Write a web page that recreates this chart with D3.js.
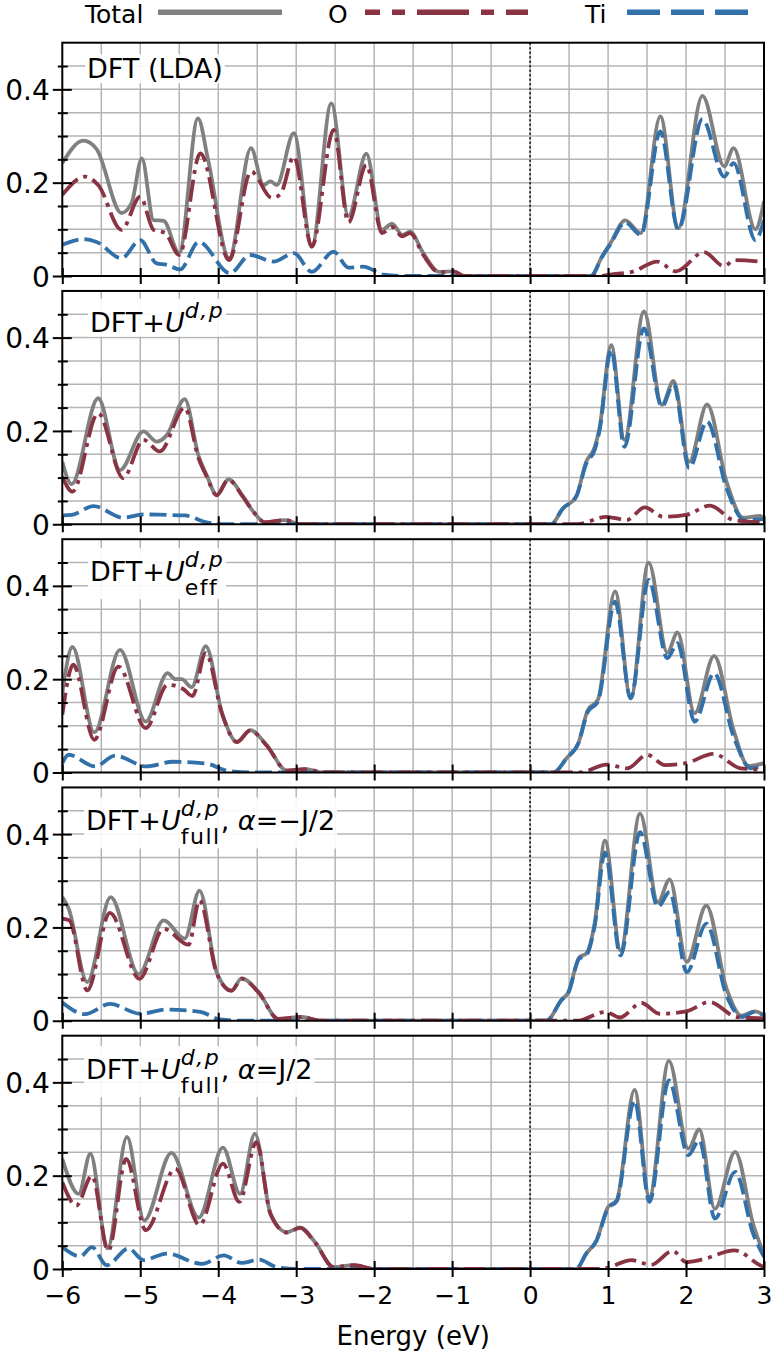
<!DOCTYPE html>
<html>
<head>
<meta charset="utf-8">
<script src="https://cdn.jsdelivr.net/npm/d3@7"></script>
<style>
  body { margin: 0; background: #fff; }
  text { font-family: "DejaVu Sans", sans-serif; white-space: pre; }
</style>
</head>
<body>
<div id="plot"></div>
<script>
// density of states, [energy (eV), DOS]

// panel 1 : DFT (LDA)
var total1 = [[-6,0.242],[-5.73,0.29],[-5.56,0.272],[-5.24,0.135],[-5.11,0.157],[-4.98,0.252],[-4.83,0.12],[-4.70,0.118],[-4.50,0.049],[-4.26,0.338],[-4.13,0.249],[-3.86,0.038],[-3.58,0.274],[-3.42,0.195],[-3.33,0.203],[-3.25,0.195],[-3.03,0.306],[-2.80,0.063],[-2.55,0.37],[-2.33,0.129],[-2.10,0.262],[-1.90,0.099],[-1.77,0.112],[-1.64,0.088],[-1.54,0.095],[-1.37,0.049],[-1.17,0.009],[-0.98,0.01],[-0.85,0],[0.78,0],[0.92,0.041],[1.03,0.07],[1.22,0.119],[1.42,0.092],[1.67,0.342],[1.90,0.102],[2.21,0.386],[2.49,0.235],[2.61,0.274],[2.89,0.1],[3,0.16]];
var oxy1 = [[-6,0.174],[-5.71,0.213],[-5.54,0.195],[-5.24,0.099],[-5.0,0.17],[-4.83,0.099],[-4.68,0.092],[-4.50,0.045],[-4.23,0.263],[-3.86,0.034],[-3.58,0.224],[-3.31,0.167],[-3.20,0.176],[-3.03,0.256],[-2.80,0.063],[-2.52,0.313],[-2.33,0.115],[-2.10,0.238],[-1.90,0.092],[-1.77,0.105],[-1.64,0.085],[-1.54,0.092],[-1.37,0.045],[-1.17,0.008],[-0.98,0.01],[-0.85,0],[0.9,0],[1.03,0.003],[1.33,0.01],[1.63,0.031],[1.87,0.01],[2.23,0.051],[2.49,0.021],[2.62,0.034],[3,0.03]];
var ti1 = [[-6,0.067],[-5.73,0.079],[-5.56,0.073],[-5.24,0.038],[-5.0,0.077],[-4.79,0.027],[-4.66,0.024],[-4.49,0.014],[-4.25,0.073],[-3.85,0.006],[-3.59,0.045],[-3.29,0.031],[-3.03,0.049],[-2.80,0.009],[-2.52,0.052],[-2.33,0.018],[-2.14,0.02],[-1.88,0.003],[-1.6,0],[0.78,0],[0.92,0.04],[1.03,0.068],[1.22,0.115],[1.42,0.088],[1.67,0.31],[1.90,0.1],[2.21,0.336],[2.49,0.213],[2.61,0.242],[2.89,0.077],[3,0.12]];

// panel 2 : DFT+U d,p
var total2 = [[-6,0.134],[-5.88,0.086],[-5.54,0.27],[-5.26,0.116],[-4.96,0.199],[-4.79,0.177],[-4.66,0.191],[-4.43,0.268],[-4.25,0.145],[-4.15,0.106],[-4.02,0.063],[-3.87,0.096],[-3.68,0.059],[-3.55,0.027],[-3.40,0.004],[-3.14,0.009],[-2.95,0],[0.27,0],[0.42,0.034],[0.59,0.059],[0.72,0.134],[0.83,0.166],[0.89,0.206],[1.04,0.384],[1.21,0.181],[1.46,0.456],[1.69,0.256],[1.84,0.307],[2.04,0.134],[2.27,0.257],[2.52,0.091],[2.73,0.014],[2.95,0.018],[3,0.013]];
var oxy2 = [[-6,0.102],[-5.87,0.07],[-5.54,0.238],[-5.22,0.099],[-4.96,0.181],[-4.75,0.156],[-4.43,0.25],[-4.25,0.14],[-4.15,0.103],[-4.02,0.062],[-3.87,0.095],[-3.68,0.058],[-3.55,0.027],[-3.40,0.004],[-3.14,0.009],[-2.95,0],[0.6,0],[0.98,0.016],[1.24,0.009],[1.47,0.036],[1.71,0.016],[2.0,0.02],[2.31,0.04],[2.61,0.009],[3,0.004]];
var ti2 = [[-6,0.019],[-5.88,0.02],[-5.6,0.039],[-5.22,0.014],[-4.96,0.021],[-4.66,0.02],[-4.43,0.019],[-4.15,0.004],[-3.9,0],[0.27,0],[0.42,0.034],[0.59,0.059],[0.72,0.13],[0.83,0.16],[0.89,0.2],[1.04,0.374],[1.21,0.166],[1.46,0.42],[1.69,0.252],[1.84,0.3],[2.04,0.12],[2.27,0.22],[2.52,0.077],[2.75,0.009],[3,0.011]];

// panel 3 : DFT+U d,p eff
var total3 = [[-6,0.17],[-5.87,0.269],[-5.59,0.086],[-5.26,0.263],[-4.93,0.109],[-4.65,0.213],[-4.55,0.2],[-4.47,0.2],[-4.34,0.183],[-4.16,0.271],[-3.95,0.127],[-3.76,0.066],[-3.59,0.091],[-3.38,0.059],[-3.12,0.004],[-2.88,0.007],[-2.65,0],[0.3,0],[0.47,0.031],[0.62,0.063],[0.74,0.134],[0.87,0.156],[1.09,0.388],[1.29,0.159],[1.52,0.45],[1.76,0.257],[1.89,0.3],[2.11,0.127],[2.36,0.25],[2.61,0.091],[2.80,0.014],[3,0.02]];
var oxy3 = [[-6,0.124],[-5.86,0.231],[-5.59,0.07],[-5.28,0.227],[-4.93,0.095],[-4.65,0.188],[-4.45,0.179],[-4.33,0.164],[-4.16,0.256],[-3.95,0.125],[-3.76,0.065],[-3.59,0.09],[-3.38,0.058],[-3.12,0.004],[-2.88,0.007],[-2.65,0],[0.64,0],[0.98,0.017],[1.25,0.009],[1.5,0.038],[1.73,0.016],[2.0,0.02],[2.35,0.04],[2.7,0.009],[3,0.006]];
var ti3 = [[-6,0.02],[-5.92,0.038],[-5.58,0.013],[-5.32,0.036],[-4.92,0.013],[-4.58,0.023],[-4.15,0.019],[-3.89,0.004],[-3.6,0],[0.3,0],[0.47,0.031],[0.62,0.063],[0.74,0.13],[0.87,0.152],[1.09,0.366],[1.29,0.159],[1.52,0.413],[1.76,0.245],[1.89,0.277],[2.11,0.109],[2.36,0.213],[2.61,0.077],[2.83,0.009],[3,0.016]];

// panel 4 : DFT+U d,p full, alpha=-J/2
var total4 = [[-6,0.265],[-5.92,0.241],[-5.68,0.083],[-5.38,0.265],[-5.02,0.1],[-4.70,0.215],[-4.43,0.176],[-4.24,0.279],[-4.02,0.104],[-3.83,0.065],[-3.70,0.091],[-3.48,0.061],[-3.23,0.004],[-2.93,0.008],[-2.69,0],[0.21,0],[0.40,0.044],[0.49,0.061],[0.63,0.136],[0.72,0.144],[0.83,0.211],[0.96,0.386],[1.16,0.151],[1.41,0.444],[1.64,0.254],[1.79,0.303],[2.01,0.126],[2.26,0.247],[2.52,0.069],[2.71,0.011],[2.88,0.02],[3,0.012]];
var oxy4 = [[-6,0.219],[-5.91,0.215],[-5.68,0.065],[-5.39,0.231],[-5.01,0.09],[-4.70,0.197],[-4.38,0.163],[-4.24,0.258],[-4.02,0.102],[-3.83,0.064],[-3.70,0.09],[-3.48,0.06],[-3.23,0.004],[-2.93,0.008],[-2.69,0],[0.6,0],[0.97,0.019],[1.15,0.007],[1.43,0.038],[1.66,0.015],[2.0,0.02],[2.3,0.04],[2.65,0.008],[3,0.005]];
var ti4 = [[-6,0.039],[-5.71,0.014],[-5.39,0.036],[-5.0,0.015],[-4.66,0.024],[-4.23,0.019],[-3.98,0.003],[-3.7,0],[0.21,0],[0.40,0.044],[0.49,0.06],[0.63,0.133],[0.72,0.14],[0.83,0.205],[0.96,0.361],[1.16,0.14],[1.41,0.404],[1.64,0.244],[1.79,0.276],[2.01,0.104],[2.26,0.208],[2.52,0.054],[2.72,0.008],[2.88,0.019],[3,0.011]];

// panel 5 : DFT+U d,p full, alpha=J/2
var total5 = [[-6,0.236],[-5.79,0.161],[-5.64,0.247],[-5.42,0.044],[-5.17,0.283],[-4.95,0.104],[-4.60,0.249],[-4.25,0.11],[-3.94,0.26],[-3.72,0.161],[-3.53,0.29],[-3.33,0.119],[-3.12,0.079],[-2.95,0.089],[-2.76,0.058],[-2.52,0.004],[-2.26,0.008],[-2.0,0],[0.59,0],[0.72,0.033],[0.85,0.061],[1.0,0.133],[1.11,0.147],[1.34,0.384],[1.53,0.154],[1.78,0.446],[2.03,0.258],[2.17,0.299],[2.37,0.129],[2.63,0.251],[2.86,0.097],[3,0.03]];
var oxy5 = [[-6,0.186],[-5.82,0.136],[-5.62,0.2],[-5.41,0.039],[-5.18,0.236],[-4.93,0.083],[-4.55,0.215],[-4.24,0.094],[-3.94,0.226],[-3.73,0.144],[-3.51,0.272],[-3.33,0.118],[-3.12,0.078],[-2.95,0.088],[-2.76,0.057],[-2.52,0.004],[-2.26,0.008],[-2.0,0],[0.9,0],[1.0,0.003],[1.3,0.019],[1.55,0.009],[1.83,0.039],[2.0,0.015],[2.2,0.02],[2.62,0.04],[2.95,0.008],[3,0.004]];
var ti5 = [[-6,0.047],[-5.77,0.027],[-5.62,0.047],[-5.43,0.008],[-5.15,0.044],[-4.96,0.019],[-4.66,0.033],[-4.21,0.011],[-3.93,0.029],[-3.70,0.013],[-3.48,0.02],[-3.25,0.004],[-3.0,0],[0.59,0],[0.72,0.033],[0.85,0.06],[1.0,0.13],[1.11,0.145],[1.34,0.361],[1.53,0.144],[1.78,0.404],[2.03,0.244],[2.17,0.276],[2.37,0.108],[2.63,0.208],[2.86,0.076],[3,0.026]];

// panel titles (pieces: plain, italic, superscript, subscript)
var title1 = [{t: "DFT (LDA)"}];
var title2 = [{t: "DFT+"}, {t: "U", it: 1}, {t: "d,p", it: 1, sup: 1}];
var title3 = [{t: "DFT+"}, {t: "U", it: 1}, {t: "d,p", it: 1, sup: 1}, {t: "eff", sub: 1}];
var title4 = [{t: "DFT+"}, {t: "U", it: 1}, {t: "d,p", it: 1, sup: 1}, {t: "full", sub: 1}, {t: ",\u00a0"}, {t: "α", it: 1}, {t: "=−J/2"}];
var title5 = [{t: "DFT+"}, {t: "U", it: 1}, {t: "d,p", it: 1, sup: 1}, {t: "full", sub: 1}, {t: ",\u00a0"}, {t: "α", it: 1}, {t: "=J/2"}];

var seriesNames = ["Total", "O", "Ti"];
var xTicks = [-6, -5, -4, -3, -2, -1, 0, 1, 2, 3];
var yMajor = [0, 0.2, 0.4];
var yMinor = [0.05, 0.1, 0.15, 0.25, 0.3, 0.35, 0.45];

var panels = [
  {total: total1, o: oxy1, ti: ti1, title: title1},
  {total: total2, o: oxy2, ti: ti2, title: title2},
  {total: total3, o: oxy3, ti: ti3, title: title3},
  {total: total4, o: oxy4, ti: ti4, title: title4},
  {total: total5, o: oxy5, ti: ti5, title: title5}
];

// layout
var W = 773, H = 1356;
var left = 62.3, right = 764, top0 = 42.7, pitch = 248.25, ph = 233.3;
var titleX = [87, 90, 90, 86, 86];
var titleDy = [35.6, 40.7, 42, 43, 43.3];

var colTotal = "#808080", colO = "#8a3343", colTi = "#3170a9";

var svg = d3.select("div#plot")
  .append("svg")
    .attr("width", W)
    .attr("height", H);

var x = d3.scaleLinear().domain([-6, 3]).range([left, right]);

panels.forEach(function (p, i) {
  var top = top0 + i * pitch;
  var y = d3.scaleLinear().domain([0, 0.5]).range([top + ph, top]);
  var g = svg.append("g");

  // grid
  g.append("g").selectAll("line")
    .data(d3.range(-5.5, 3, 0.5))
    .enter().append("line")
      .attr("x1", d => x(d)).attr("x2", d => x(d))
      .attr("y1", top).attr("y2", top + ph)
      .attr("stroke", "#b4b4b4").attr("stroke-width", 1.5);
  g.append("g").selectAll("line")
    .data(d3.range(1, 10).map(k => k * 0.05))
    .enter().append("line")
      .attr("x1", left).attr("x2", right)
      .attr("y1", d => y(d)).attr("y2", d => y(d))
      .attr("stroke", "#b4b4b4").attr("stroke-width", 1.5);

  // Fermi level
  g.append("line")
    .attr("x1", x(0)).attr("x2", x(0))
    .attr("y1", top).attr("y2", top + ph)
    .attr("stroke", "#000").attr("stroke-width", 1.5)
    .attr("stroke-dasharray", "2,2.5");

  // curves, clipped to the panel
  var cid = "clip" + i;
  svg.append("clipPath").attr("id", cid)
    .append("rect").attr("x", left).attr("y", top)
    .attr("width", right - left).attr("height", ph);

  var line = d3.line()
    .x(d => x(d[0]))
    .y(d => y(d[1]))
    .curve(d3.curveMonotoneX);

  var lg = g.append("g").attr("clip-path", "url(#" + cid + ")");
  lg.append("path").attr("d", line(p.total))
    .attr("fill", "none").attr("stroke", colTotal).attr("stroke-width", 3.8);
  lg.append("path").attr("d", line(p.ti))
    .attr("fill", "none").attr("stroke", colTi).attr("stroke-width", 3.8)
    .attr("stroke-dasharray", "17,6");
  lg.append("path").attr("d", line(p.o))
    .attr("fill", "none").attr("stroke", colO).attr("stroke-width", 3.8)
    .attr("stroke-dasharray", "22,6,4,6");

  // title with a white box behind it
  var tg = g.append("g");
  var box = tg.append("rect").attr("fill", "#fff").attr("opacity", 0.9);
  var base = top + titleDy[i];
  var cx = titleX[i], supStart = cx, supEnd = cx;
  p.title.forEach(function (part) {
    var small = part.sup || part.sub;
    var px = part.sub ? supStart : cx;
    var t = tg.append("text")
      .attr("x", px)
      .attr("y", base + (part.sup ? -14 : part.sub ? 14 : 0))
      .attr("font-size", small ? 22 : 27)
      .attr("letter-spacing", small ? 1.5 : 0)
      .attr("font-style", part.it ? "italic" : "normal")
      .attr("fill", "#000")
      .text(part.t);
    var w = t.node().getComputedTextLength();
    if (part.sup) { supStart = px; supEnd = px + w; cx = supEnd; }
    else if (part.sub) { cx = Math.max(supEnd, px + w); }
    else { cx = px + w; }
  });
  var bb = tg.node().getBBox();
  box.attr("x", bb.x - 2).attr("y", bb.y + 1)
    .attr("width", bb.width + 4).attr("height", bb.height - 2);

  // y axis: major and minor ticks, crossing the spine
  var ay = g.append("g")
    .attr("transform", "translate(" + left + ",0)")
    .call(d3.axisLeft(y).tickValues(yMajor).tickSize(9.5).tickPadding(3)
      .tickFormat(d => d === 0 ? "0" : d3.format(".1f")(d)));
  ay.select(".domain").remove();
  ay.selectAll(".tick line").attr("x1", 9.5).attr("stroke-width", 2);
  ay.selectAll("text").attr("font-size", 28).attr("dy", "0.36em")
    .attr("font-family", "DejaVu Sans").attr("fill", "#000");

  var ayMinor = g.append("g")
    .attr("transform", "translate(" + left + ",0)")
    .call(d3.axisLeft(y).tickValues(yMinor).tickSize(4.5).tickFormat(""));
  ayMinor.select(".domain").remove();
  ayMinor.selectAll(".tick line").attr("x1", 5.5).attr("stroke-width", 2);

  // x axis
  var last = i === panels.length - 1;
  var ax = g.append("g")
    .attr("transform", "translate(0," + (top + ph) + ")")
    .call(d3.axisBottom(x).tickValues(xTicks).tickSize(8).tickPadding(9)
      .tickFormat(last ? d3.format("d") : ""));
  ax.select(".domain").remove();
  ax.selectAll(".tick line").attr("y1", -8).attr("stroke-width", 2);
  ax.selectAll("text").attr("font-size", 25)
    .attr("font-family", "DejaVu Sans").attr("fill", "#000");

  // frame
  g.append("rect")
    .attr("x", left).attr("y", top)
    .attr("width", right - left).attr("height", ph)
    .attr("fill", "none").attr("stroke", "#000").attr("stroke-width", 2);
});

// x label
svg.append("text")
  .attr("x", (left + right) / 2)
  .attr("y", 1345)
  .attr("text-anchor", "middle")
  .attr("font-size", 26)
  .text("Energy (eV)");

// legend
var legend = [
  {name: seriesNames[0], tx: 85, x1: 158, x2: 282, color: colTotal, dash: null},
  {name: seriesNames[1], tx: 328, x1: 365, x2: 528, color: colO, dash: "52,12,13,12", off: 37},
  {name: seriesNames[2], tx: 585, x1: 627, x2: 748, color: colTi, dash: "33,11"}
];
legend.forEach(function (l) {
  svg.append("text")
    .attr("x", l.tx).attr("y", 23.3)
    .attr("font-size", 25)
    .text(l.name);
  var ln = svg.append("line")
    .attr("x1", l.x1).attr("x2", l.x2)
    .attr("y1", 12.3).attr("y2", 12.3)
    .attr("stroke", l.color).attr("stroke-width", 5.5);
  if (l.dash) ln.attr("stroke-dasharray", l.dash);
  if (l.off) ln.attr("stroke-dashoffset", l.off);
});
</script>
</body>
</html>
